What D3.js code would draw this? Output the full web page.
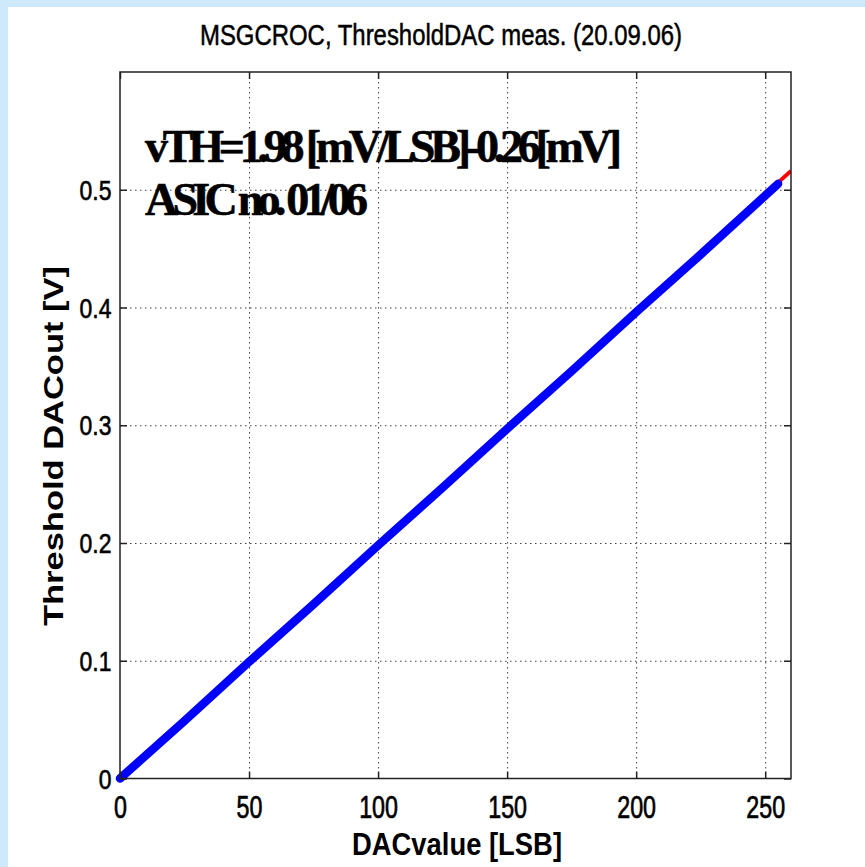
<!DOCTYPE html>
<html>
<head>
<meta charset="utf-8">
<script src="https://cdn.jsdelivr.net/npm/d3@7"></script>
<style>
  body { margin: 0; padding: 0; background: #fff; }
  svg { display: block; }
</style>
</head>
<body>
<div id="chart"></div>
<script>
var dacValues  = [0, 25, 50, 75, 100, 125, 150, 175, 200, 225, 255];
var voltValues = [0, 0.049, 0.099, 0.148, 0.198, 0.247, 0.297, 0.346, 0.396, 0.445, 0.505];
// fitted line, drawn under the measurement
var fitDac  = [0, 260];
var fitVolt = [0, 0.516];

var xTicks = [0, 50, 100, 150, 200, 250];
var yTicks = [0, 0.1, 0.2, 0.3, 0.4, 0.5];

var titleText = 'MSGCROC, ThresholdDAC meas. (20.09.06)';
var xLabel = 'DACvalue [LSB]';
var yLabel = 'Threshold DACout [V]';
var noteLines = ['vTH=1.98 [mV/LSB]-0.26[mV]', 'ASIC no. 01/06'];

var W = 865, H = 867;
// plot box (named so they don't clash with window.top etc.)
var pLeft = 120, pRight = 791, pTop = 72, pBottom = 778.5;

var svg = d3.select('#chart').append('svg')
    .attr('width', W)
    .attr('height', H);

svg.append('rect').attr('width', W).attr('height', H).attr('fill', '#cde9fb');
svg.append('rect').attr('x', 8).attr('y', 7).attr('width', W - 8).attr('height', H - 7).attr('fill', '#fff');

var xScale = d3.scaleLinear()
    .domain([0, 260])
    .range([pLeft, pRight]);

var yScale = d3.scaleLinear()
    .domain([0, 0.6])
    .range([pBottom, pTop]);

// grid
var gridX = svg.append('g')
    .attr('transform', 'translate(0,' + pBottom + ')')
    .call(d3.axisBottom(xScale).tickValues(xTicks.slice(1)).tickSize(-(pBottom - pTop)).tickFormat(''));
var gridY = svg.append('g')
    .attr('transform', 'translate(' + pLeft + ',0)')
    .call(d3.axisLeft(yScale).tickValues(yTicks.slice(1)).tickSize(-(pRight - pLeft)).tickFormat(''));
[gridX, gridY].forEach(function(g){
    g.select('.domain').remove();
    g.selectAll('line')
        .attr('stroke', '#444')
        .attr('stroke-width', 1)
        .attr('stroke-dasharray', '1.5,3.5');
});

// fit line (red) and measurement (blue)
var fitData = fitDac.map(function(d, i){ return [d, fitVolt[i]]; });
var measData = dacValues.map(function(d, i){ return [d, voltValues[i]]; });

var line = d3.line()
    .x(function(d){ return xScale(d[0]); })
    .y(function(d){ return yScale(d[1]); });

svg.append('clipPath').attr('id', 'plotclip')
    .append('rect')
    .attr('x', pLeft).attr('y', pTop)
    .attr('width', pRight - pLeft).attr('height', pBottom - pTop);

svg.append('path')
    .datum(fitData)
    .attr('d', line)
    .attr('clip-path', 'url(#plotclip)')
    .attr('fill', 'none')
    .attr('stroke', '#ff0000')
    .attr('stroke-width', 4);

svg.append('path')
    .datum(measData)
    .attr('d', line)
    .attr('fill', 'none')
    .attr('stroke', '#0000ff')
    .attr('stroke-width', 8.5)
    .attr('stroke-linecap', 'round')
    .attr('stroke-linejoin', 'round');

// box
svg.append('rect')
    .attr('x', pLeft).attr('y', pTop)
    .attr('width', pRight - pLeft).attr('height', pBottom - pTop)
    .attr('fill', 'none')
    .attr('stroke', '#222')
    .attr('stroke-width', 1.5);

// axes with inward ticks
var xAxis = svg.append('g')
    .attr('transform', 'translate(0,' + pBottom + ')')
    .call(d3.axisBottom(xScale).tickValues(xTicks).tickSize(-7).tickFormat(d3.format('d')));
var yAxis = svg.append('g')
    .attr('transform', 'translate(' + pLeft + ',0)')
    .call(d3.axisLeft(yScale).tickValues(yTicks).tickSize(-7).tickFormat(function(d){ return d === 0 ? '0' : d3.format('.1f')(d); }));
var xTop = svg.append('g')
    .attr('transform', 'translate(0,' + pTop + ')')
    .call(d3.axisTop(xScale).tickValues(xTicks).tickSize(-7).tickFormat(''));
var yRight = svg.append('g')
    .attr('transform', 'translate(' + pRight + ',0)')
    .call(d3.axisRight(yScale).tickValues(yTicks).tickSize(-7).tickFormat(''));

[xAxis, yAxis, xTop, yRight].forEach(function(g){
    g.select('.domain').remove();
    g.selectAll('line').attr('stroke', '#222').attr('stroke-width', 1.5);
});

xAxis.selectAll('text')
    .attr('y', 39.5)
    .attr('dy', 0)
    .attr('fill', '#000')
    .attr('font-family', '"Liberation Sans", Arial, sans-serif')
    .attr('font-size', 31)
    .attr('stroke', '#000')
    .attr('stroke-width', 0.7)
    .attr('transform', 'scale(0.75,1)');

yAxis.selectAll('text')
    .attr('x', -10)
    .attr('dy', '0.36em')
    .attr('fill', '#000')
    .attr('font-family', '"Liberation Sans", Arial, sans-serif')
    .attr('font-size', 27)
    .attr('stroke', '#000')
    .attr('stroke-width', 0.6)
    .attr('transform', 'scale(0.85,1)');

// title
svg.append('text')
    .attr('x', 441)
    .attr('y', 45)
    .attr('text-anchor', 'middle')
    .attr('font-family', '"Liberation Sans", Arial, sans-serif')
    .attr('font-size', 29)
    .attr('stroke', '#000')
    .attr('stroke-width', 0.5)
    .attr('textLength', 482)
    .attr('lengthAdjust', 'spacingAndGlyphs')
    .text(titleText);

// axis labels
svg.append('text')
    .attr('x', 457)
    .attr('y', 855)
    .attr('text-anchor', 'middle')
    .attr('font-family', '"Liberation Sans", Arial, sans-serif')
    .attr('font-weight', 'bold')
    .attr('font-size', 32)
    .attr('textLength', 210)
    .attr('lengthAdjust', 'spacingAndGlyphs')
    .text(xLabel);

svg.append('text')
    .attr('transform', 'translate(63,446) rotate(-90)')
    .attr('text-anchor', 'middle')
    .attr('font-family', '"Liberation Sans", Arial, sans-serif')
    .attr('font-weight', 'bold')
    .attr('font-size', 28)
    .attr('textLength', 360)
    .attr('lengthAdjust', 'spacingAndGlyphs')
    .text(yLabel);

// annotation
var noteY = [162, 215];
var noteW = [477, 223];
svg.selectAll('.note')
    .data(noteLines)
    .enter()
    .append('text')
    .attr('class', 'note')
    .attr('x', 145)
    .attr('y', function(d, i){ return noteY[i]; })
    .attr('font-family', '"Liberation Serif", "Times New Roman", serif')
    .attr('font-weight', 'bold')
    .attr('font-size', 46)
    .attr('stroke', '#000')
    .attr('stroke-width', 0.6)
    .attr('textLength', function(d, i){ return noteW[i]; })
    .attr('lengthAdjust', 'spacing')
    .text(function(d){ return d; });
</script>
</body>
</html>
